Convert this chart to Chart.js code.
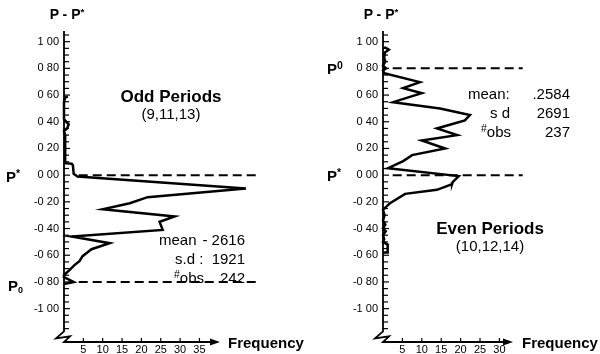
<!DOCTYPE html>
<html><head><meta charset="utf-8">
<script src="https://cdn.jsdelivr.net/npm/chart.js@4.4.1/dist/chart.umd.min.js"></script>
<style>
body{margin:0;background:#fff}
#wrap{position:relative;width:600px;height:354px;overflow:hidden;font-family:"Liberation Sans",Arial,sans-serif;color:#000}
canvas{position:absolute;top:0}
.t{position:absolute;white-space:nowrap;line-height:1;transform:translateY(-50%)}
.c{transform:translate(-50%,-50%)}
.b{font-weight:bold}
.t sup{font-size:.7em;vertical-align:.4em;line-height:0}
.t sub{font-size:.6em;vertical-align:-.3em;line-height:0}
.s{font-size:15px}
</style>
</head><body>
<div id="wrap">
  <canvas id="cOdd" width="300" height="354" style="left:0"></canvas>
  <canvas id="cEven" width="300" height="354" style="left:300px"></canvas>

  <div class="t c b" style="left:67px;top:14px;font-size:14px">P - P<sup>*</sup></div>
  <div class="t c b" style="left:381px;top:14px;font-size:14px">P - P<sup>*</sup></div>

  <div class="t b" style="left:6px;top:176px;font-size:15px">P<sup>*</sup></div>
  <div class="t b" style="left:8px;top:285px;font-size:15px">P<sub>0</sub></div>
  <div class="t b" style="left:327px;top:68px;font-size:15px">P<sup>0</sup></div>
  <div class="t b" style="left:327px;top:175px;font-size:15px">P<sup>*</sup></div>

  <div class="t c b" style="left:171px;top:96px;font-size:17px">Odd Periods</div>
  <div class="t c" style="left:171px;top:113px;font-size:15px">(9,11,13)</div>
  <div class="t s" style="left:159px;top:239px">mean</div>
  <div class="t s" style="right:355px;top:239px">- 2616</div>
  <div class="t s" style="left:175px;top:258px">s.d :</div>
  <div class="t s" style="right:355px;top:258px">1921</div>
  <div class="t s" style="left:174px;top:277px"><sup>#</sup>obs</div>
  <div class="t s" style="right:355px;top:277px">242</div>

  <div class="t s" style="left:468px;top:93px">mean:</div>
  <div class="t s" style="right:30px;top:93px">.2584</div>
  <div class="t s" style="left:490px;top:112px">s d</div>
  <div class="t s" style="right:30px;top:112px">2691</div>
  <div class="t s" style="left:481px;top:131px"><sup>#</sup>obs</div>
  <div class="t s" style="right:30px;top:131px">237</div>
  <div class="t c b" style="left:490px;top:228px;font-size:17px">Even Periods</div>
  <div class="t c" style="left:490px;top:245px;font-size:15px">(10,12,14)</div>

  <div class="t b" style="left:228px;top:342px;font-size:15px">Frequency</div>
  <div class="t b" style="left:522px;top:342px;font-size:15px">Frequency</div>
</div>
<script>
/* ═══ DATA ═══ */
const FF='"Liberation Sans", Arial, sans-serif';
const yTicks=[1,0.8,0.6,0.4,0.2,0,-0.2,-0.4,-0.6,-0.8,-1];
const oddXTicks=[5,10,15,20,25,30,35];
const evenXTicks=[5,10,15,20,25,30];

// odd periods: P-P* level and frequency along the trace
const oddVal =[0.59,0.58,0.55,0.42,0.38,0.35,0.33,0.30,0.09,0.085,0.075,0.01,-0.01,-0.10,-0.165,-0.21,-0.255,-0.31,-0.35,-0.41,-0.46,-0.51,-0.555,-0.577,-0.607,-0.644,-0.674,-0.712,-0.749,-0.764,-0.80,-0.815];
const oddFreq=[1,0.3,0,0,1.2,0.8,0,0.3,0.3,2.0,2.3,2.5,3.5,47,21.6,17,10,28.6,24.7,25.5,2,11.8,7.1,6.1,4.8,4.0,2.7,1.4,0,0,2.5,0];
const oddRefY=[0,-0.8], oddRefX=[3.8,50];

// even periods
const evenVal =[0.96,0.94,0.92,0.88,0.85,0.82,0.80,0.785,0.764,0.697,0.652,0.614,0.547,0.50,0.45,0.41,0.35,0.30,0.26,0.20,0.15,0.105,0.052,-0.007,-0.05,-0.067,-0.11,-0.14,-0.21,-0.26,-0.30,-0.34,-0.37,-0.40,-0.42,-0.45,-0.48,-0.50,-0.52,-0.58,-0.58];
const evenFreq=[0.3,1.5,0.5,0.3,0.6,0,0.8,0,0.3,9.5,5.2,10,2.6,14.7,22.4,21.1,13.9,19.1,10,16,7.5,5.2,1.3,19.5,18,17.8,13.9,5.7,1.8,0,0.4,0,0.6,0,0.7,0,0.3,0,1.2,1.2,0];
const evenRefY=[0.8,0], evenRefX=[2.5,36];

/* ═══ HELPERS ═══ */
function pts(v,f){return v.map((y,i)=>({x:f[i],y}));}
function fmtY(v){
  const a=Math.abs(v).toFixed(2).replace('.',' ');
  return (v< -1e-9?'-':'')+a;
}

const decor=o=>({id:'decor',afterDraw(c){
  const {ctx,chartArea:a,scales:{x,y}}=c;
  const ax=a.left, yb=y.getPixelForValue(-1.17), bot=a.bottom;
  const xe=x.getPixelForValue(o.arrowTo);
  ctx.save();
  ctx.strokeStyle='#000'; ctx.fillStyle='#000'; ctx.lineWidth=1.8; ctx.lineJoin='miter';
  ctx.beginPath();
  ctx.moveTo(ax,a.top); ctx.lineTo(ax,yb);
  ctx.lineTo(ax-8,yb+7); ctx.lineTo(ax+6,yb+5); ctx.lineTo(ax,bot);
  ctx.lineTo(xe-6,bot);
  ctx.stroke();
  ctx.beginPath(); ctx.moveTo(xe,bot); ctx.lineTo(xe-10,bot-3.5); ctx.lineTo(xe-10,bot+3.5); ctx.closePath(); ctx.fill();
  ctx.lineWidth=1.2;
  for(let i=21;i>=-23;i--){
    const py=y.getPixelForValue(i*0.05);
    ctx.beginPath(); ctx.moveTo(ax,py); ctx.lineTo(ax+(i%4===0?6:5),py); ctx.stroke();
  }
  o.xTicks.forEach(v=>{const px=x.getPixelForValue(v); ctx.beginPath(); ctx.moveTo(px,bot); ctx.lineTo(px,bot-4); ctx.stroke();});
  ctx.restore();
}});

function makeChart(id,o){
  const ds=[{data:pts(o.val,o.freq),borderColor:'#000',borderWidth:2.5,pointRadius:0,showLine:true,tension:0,clip:false}];
  o.refY.forEach(v=>ds.push({data:[{x:o.refX[0],y:v},{x:o.refX[1],y:v}],borderColor:'#000',borderWidth:2,borderDash:[9,5],pointRadius:0,showLine:true,clip:false}));
  return new Chart(document.getElementById(id),{
    type:'scatter',
    data:{datasets:ds},
    options:{
      responsive:false, animation:false, events:[],
      layout:{padding:{top:31,right:o.padR,bottom:0,left:0}},
      plugins:{legend:{display:false},tooltip:{enabled:false}},
      scales:{
        x:{type:'linear',min:0,max:o.xMax,grid:{display:false,drawTicks:false},border:{display:false},
           afterBuildTicks:s=>{s.ticks=o.xTicks.map(v=>({value:v}))},
           afterFit:s=>{s.height=12},
           ticks:{padding:1,font:{size:11,family:FF},color:'#000',maxRotation:0,autoSkip:false}},
        y:{type:'linear',min:-1.25,max:1.08,grid:{display:false,drawTicks:false},border:{display:false},
           afterBuildTicks:s=>{s.ticks=yTicks.map(v=>({value:v}))},
           afterFit:s=>{s.width=o.axisX},
           ticks:{padding:5,font:{size:11,family:FF},color:'#000',autoSkip:false,callback:fmtY}}
      }
    },
    plugins:[decor(o)]
  });
}

makeChart('cOdd',{val:oddVal,freq:oddFreq,refY:oddRefY,refX:oddRefX,xTicks:oddXTicks,xMax:50,axisX:64,padR:42.5,arrowTo:40.3});
makeChart('cEven',{val:evenVal,freq:evenFreq,refY:evenRefY,refX:evenRefX,xTicks:evenXTicks,xMax:36,axisX:83,padR:77.3,arrowTo:33.5});
</script>
</body></html>
